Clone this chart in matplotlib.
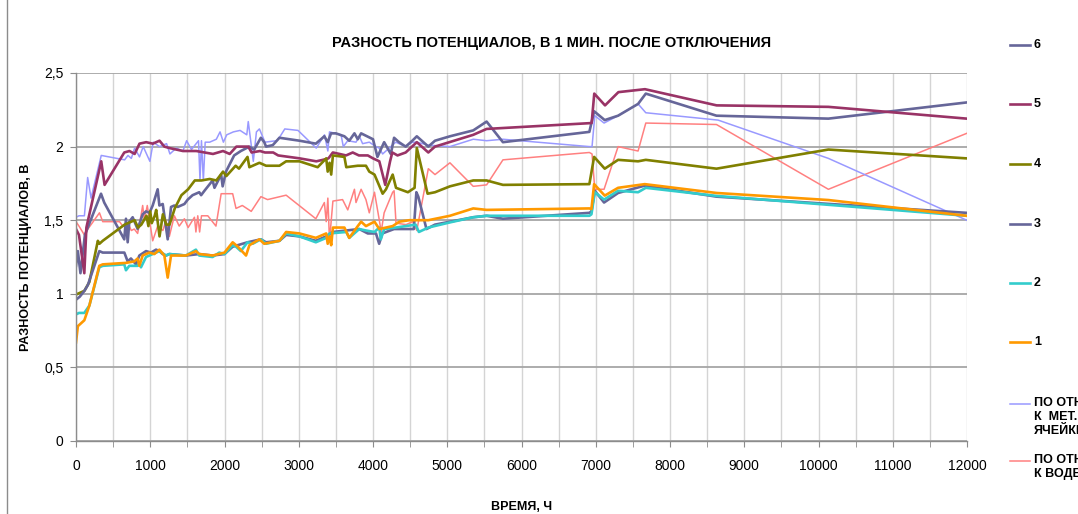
import matplotlib
matplotlib.use("Agg")
import matplotlib.pyplot as plt
from matplotlib.lines import Line2D
from matplotlib.ticker import MultipleLocator, FuncFormatter

plt.rcParams["font.family"] = ["Liberation Sans Narrow", "Liberation Sans", "DejaVu Sans"]

# ---- data (hours, volts) ----
s6_x = [0, 25, 60, 120, 337, 380, 650, 673, 696, 718, 763, 830, 898, 943, 990, 1033, 1100, 1123,
        1168, 1235, 1280, 1325, 1370, 1460, 1505, 1570, 1660, 1685, 1730, 1840, 1865, 1955, 1975,
        2020, 2130, 2220, 2335, 2400, 2490, 2535, 2560, 2650, 2740, 3010, 3230, 3345, 3390, 3435,
        3500, 3615, 3680, 3750, 3795, 3840, 4000, 4060, 4150, 4240, 4284, 4350, 4440, 4530, 4590,
        4745, 4835, 5036, 5350, 5530, 5750, 6914, 6978, 7121, 7301, 7570, 7674, 8626, 10133, 11996]
s6_y = [1.19, 1.29, 1.14, 1.40, 1.68, 1.62, 1.37, 1.51, 1.35, 1.49, 1.52, 1.44, 1.54, 1.56, 1.55, 1.60, 1.71, 1.60,
        1.61, 1.37, 1.59, 1.60, 1.59, 1.61, 1.64, 1.67, 1.69, 1.67, 1.70, 1.77, 1.72, 1.81, 1.73,
        1.83, 1.94, 1.97, 2.00, 1.98, 2.06, 2.03, 2.00, 2.01, 2.06, 2.04, 2.02, 2.07, 2.03, 2.09,
        2.09, 2.07, 2.04, 2.09, 2.05, 2.09, 2.05, 1.93, 2.03, 1.95, 2.06, 2.03, 2.00, 2.04, 2.07,
        2.00, 2.04, 2.07, 2.11, 2.17, 2.03, 2.10, 2.24, 2.18, 2.21, 2.29, 2.36, 2.21, 2.19, 2.30]

s5_x = [0, 40, 112, 140, 340, 385, 650, 720, 790, 855, 945, 1035, 1125, 1190, 1260, 1440, 1620,
        1845, 1980, 2070, 2160, 2320, 2365, 2478, 2545, 2656, 2723, 3013, 3236, 3325, 3400, 3459,
        3550, 3637, 3727, 3810, 3930, 4000, 4085, 4165, 4230, 4260, 4330, 4440, 4590, 4745, 4835,
        5350, 5530, 6945, 6980, 7125, 7305, 7663, 8628, 10133, 11996]
s5_y = [1.44, 1.40, 1.14, 1.45, 1.90, 1.74, 1.96, 1.97, 1.95, 2.02, 2.03, 2.02, 2.04, 2.00, 1.99, 1.97, 1.97,
        1.95, 1.97, 1.95, 2.00, 2.00, 1.96, 1.97, 1.96, 1.96, 1.94, 1.92, 1.90, 1.91, 1.92, 1.96,
        1.95, 1.94, 1.96, 1.94, 1.94, 1.92, 1.90, 1.74, 1.90, 1.96, 1.94, 1.96, 2.03, 1.96, 2.00,
        2.08, 2.12, 2.16, 2.36, 2.28, 2.37, 2.39, 2.28, 2.27, 2.19]

s4_x = [0, 113, 180, 294, 316, 360, 655, 790, 835, 880, 950, 975, 1000, 1020, 1060, 1080, 1125,
        1170, 1215, 1260, 1330, 1420, 1510, 1600, 1690, 1800, 1890, 1980, 2025, 2150, 2195, 2310,
        2335, 2470, 2560, 2740, 2830, 3010, 3255, 3370, 3390, 3415, 3437, 3460, 3615, 3640, 3795,
        3905, 3950, 4020, 4130, 4175, 4265, 4310, 4470, 4560, 4590, 4735, 4835, 5036, 5350, 5530,
        5750, 6914, 6978, 7121, 7301, 7570, 7674, 8626, 10133, 11996]
s4_y = [0.995, 1.02, 1.08, 1.36, 1.34, 1.36, 1.47, 1.50, 1.45, 1.47, 1.53, 1.46, 1.56, 1.48, 1.53, 1.57, 1.39,
        1.54, 1.47, 1.47, 1.58, 1.67, 1.71, 1.77, 1.77, 1.78, 1.77, 1.83, 1.80, 1.87, 1.85, 1.93,
        1.86, 1.89, 1.87, 1.87, 1.90, 1.90, 1.86, 1.92, 1.83, 1.89, 1.81, 1.94, 1.93, 1.86, 1.87,
        1.87, 1.83, 1.81, 1.68, 1.71, 1.81, 1.72, 1.69, 1.72, 1.99, 1.68, 1.69, 1.73, 1.77, 1.77,
        1.74, 1.745, 1.93, 1.85, 1.91, 1.90, 1.91, 1.85, 1.98, 1.92]

s3_x = [0, 50, 113, 160, 314, 360, 651, 696, 740, 808, 853, 943, 1010, 1078, 1123, 1168, 1212,
        1257, 1480, 1660, 1840, 2000, 2110, 2310, 2490, 2560, 2740, 2830, 3010, 3230, 3370, 3460,
        3640, 3815, 3930, 4040, 4083, 4125, 4284, 4440, 4550, 4584, 4610, 4720, 4835, 5350, 5530,
        5750, 6914, 6942, 6987, 7112, 7301, 7660, 8626, 11996]
s3_y = [0.96, 0.98, 1.02, 1.06, 1.29, 1.28, 1.28, 1.22, 1.24, 1.20, 1.26, 1.29, 1.28, 1.30, 1.29, 1.27, 1.26,
        1.27, 1.26, 1.27, 1.26, 1.27, 1.32, 1.35, 1.37, 1.35, 1.36, 1.40, 1.39, 1.36, 1.39, 1.42,
        1.43, 1.44, 1.41, 1.41, 1.34, 1.41, 1.44, 1.44, 1.44, 1.69, 1.66, 1.44, 1.47, 1.52, 1.53,
        1.51, 1.55, 1.56, 1.70, 1.62, 1.685, 1.735, 1.66, 1.55]

s2_x = [0, 40, 112, 180, 314, 360, 650, 673, 718, 830, 853, 875, 943, 1033, 1078, 1123, 1212,
        1257, 1480, 1615, 1660, 1840, 1930, 2000, 2110, 2155, 2220, 2310, 2380, 2490, 2560, 2740,
        2830, 3010, 3230, 3370, 3415, 3640, 3680, 3815, 3905, 4020, 4085, 4105, 4150, 4306, 4574,
        4618, 4745, 5036, 5350, 5530, 6914, 6942, 6987, 7112, 7301, 7570, 7674, 8626, 11996]
s2_y = [0.86, 0.87, 0.87, 0.92, 1.18, 1.19, 1.20, 1.16, 1.19, 1.19, 1.21, 1.18, 1.25, 1.27, 1.28, 1.29, 1.26,
        1.27, 1.26, 1.30, 1.26, 1.25, 1.28, 1.27, 1.33, 1.32, 1.29, 1.35, 1.34, 1.37, 1.34, 1.36,
        1.41, 1.39, 1.35, 1.38, 1.41, 1.42, 1.38, 1.44, 1.43, 1.42, 1.45, 1.37, 1.44, 1.45, 1.47,
        1.42, 1.45, 1.485, 1.52, 1.53, 1.53, 1.54, 1.69, 1.64, 1.70, 1.69, 1.72, 1.665, 1.53]

s1_x = [0, 25, 112, 180, 314, 360, 673, 785, 830, 853, 898, 988, 1055, 1123, 1190, 1235, 1280,
        1480, 1615, 1660, 1840, 2000, 2110, 2180, 2290, 2335, 2470, 2535, 2740, 2830, 3010, 3230,
        3370, 3390, 3415, 3437, 3460, 3615, 3680, 3795, 3840, 3905, 4020, 4085, 4265, 4355, 4490,
        4745, 5036, 5350, 5530, 6914, 6942, 6978, 7121, 7301, 7660, 8626, 10133, 11996]
s1_y = [0.67, 0.78, 0.82, 0.92, 1.19, 1.20, 1.21, 1.22, 1.24, 1.19, 1.26, 1.28, 1.27, 1.30, 1.26, 1.11, 1.26,
        1.26, 1.29, 1.27, 1.26, 1.28, 1.35, 1.32, 1.26, 1.33, 1.37, 1.34, 1.36, 1.42, 1.41, 1.38,
        1.41, 1.34, 1.39, 1.33, 1.45, 1.45, 1.38, 1.46, 1.49, 1.46, 1.49, 1.44, 1.46, 1.49, 1.50,
        1.50, 1.53, 1.58, 1.57, 1.58, 1.576, 1.745, 1.667, 1.72, 1.745, 1.685, 1.637, 1.53]

met_x = [0, 40, 113, 157, 203, 340, 655, 700, 745, 790, 855, 905, 995, 1040, 1125, 1220, 1265,
         1350, 1440, 1490, 1555, 1650, 1670, 1690, 1715, 1740, 1800, 1890, 1940, 1985, 2030, 2120,
         2210, 2300, 2320, 2388, 2430, 2470, 2545, 2700, 2750, 2812, 2990, 3236, 3347, 3392, 3414,
         3570, 3600, 3660, 3771, 3816, 3860, 3950, 4040, 4083, 4130, 4306, 4440, 4530, 4590, 4745,
         5036, 5350, 5530, 5750, 6914, 6950, 6987, 7112, 7301, 7570, 7674, 8648, 10133, 11996]
met_y = [1.52, 1.53, 1.53, 1.79, 1.65, 1.94, 1.91, 1.94, 1.92, 1.99, 1.93, 2.00, 1.90, 2.03, 2.00, 2.02, 1.95,
         1.99, 1.97, 2.04, 1.98, 2.04, 1.77, 2.04, 1.77, 2.03, 2.03, 2.05, 2.10, 2.03, 2.08, 2.10,
         2.11, 2.08, 2.17, 1.90, 2.10, 2.12, 2.03, 2.04, 2.07, 2.12, 2.11, 1.99, 2.08, 1.97, 2.10,
         2.08, 2.00, 2.04, 2.03, 2.07, 2.02, 2.03, 2.00, 1.99, 1.95, 2.03, 2.00, 2.03, 2.03, 2.01,
         2.00, 2.05, 2.04, 2.05, 2.00, 2.00, 2.21, 2.16, 2.21, 2.29, 2.23, 2.18, 1.92, 1.50]

water_x = [0, 40, 113, 160, 316, 360, 586, 630, 700, 745, 785, 830, 875, 898, 920, 960, 1033,
           1100, 1170, 1212, 1257, 1325, 1390, 1460, 1510, 1595, 1615, 1640, 1665, 1690, 1775, 1885,
           1955, 2110, 2155, 2240, 2360, 2490, 2580, 2830, 3230, 3345, 3370, 3392, 3414, 3460, 3590,
           3660, 3750, 3771, 3840, 3905, 3950, 4020, 4085, 4110, 4150, 4265, 4284, 4310, 4445, 4535,
           4590, 4745, 4835, 5036, 5350, 5530, 5750, 6914, 6950, 6987, 7112, 7301, 7570, 7674, 8626,
           10133, 11996]
water_y = [1.49, 1.46, 1.40, 1.44, 1.55, 1.49, 1.49, 1.46, 1.48, 1.43, 1.44, 1.41, 1.53, 1.60, 1.50, 1.60, 1.36,
           1.46, 1.43, 1.50, 1.39, 1.53, 1.46, 1.51, 1.45, 1.52, 1.42, 1.53, 1.42, 1.53, 1.53, 1.46,
           1.68, 1.68, 1.58, 1.60, 1.56, 1.66, 1.64, 1.67, 1.51, 1.62, 1.49, 1.65, 1.36, 1.63, 1.64,
           1.57, 1.71, 1.62, 1.71, 1.64, 1.55, 1.69, 1.50, 1.42, 1.55, 1.69, 1.70, 1.48, 1.47, 1.49,
           1.43, 1.85, 1.81, 1.89, 1.73, 1.74, 1.91, 1.96, 1.95, 1.71, 1.71, 2.00, 1.97, 2.16, 2.15,
           1.71, 2.09]

series = [
    ("ПО ОТНОШЕНИЮ\nК ВОДЕ", water_x, water_y, "#ff8080", 1.1),
    ("ПО ОТНОШЕНИЮ\nК  МЕТ. \nЯЧЕЙКЕ", met_x, met_y, "#9999ff", 1.1),
    ("6", s6_x, s6_y, "#666699", 1.9),
    ("5", s5_x, s5_y, "#993366", 1.9),
    ("4", s4_x, s4_y, "#808000", 1.9),
    ("3", s3_x, s3_y, "#666699", 1.9),
    ("2", s2_x, s2_y, "#33cccc", 1.9),
    ("1", s1_x, s1_y, "#ff9900", 1.9),
]

fig = plt.figure(figsize=(10.78, 5.14), dpi=100)
ax = fig.add_axes([76 / 1078, 1 - 441 / 514, 891 / 1078, 368 / 514])

for name, xs, ys, col, lw in series:
    ax.plot(xs, ys, color=col, lw=lw, label=name, solid_joinstyle="round")

ax.set_xlim(0, 12000)
ax.set_ylim(0, 2.5)
ax.xaxis.set_major_locator(MultipleLocator(1000))
ax.xaxis.set_minor_locator(MultipleLocator(500))
ax.yaxis.set_major_locator(MultipleLocator(0.5))
ax.yaxis.set_major_formatter(FuncFormatter(lambda v, p: ("%g" % v).replace(".", ",")))

ax.grid(True, which="major", axis="y", color="#a6a6a6", lw=1.3)
ax.grid(True, which="both", axis="x", color="#d4d4d4", lw=1.0)
ax.set_axisbelow(True)
for s in ["top", "right"]:
    ax.spines[s].set_visible(False)
for s in ["left", "bottom"]:
    ax.spines[s].set_color("#8c8c8c")
    ax.spines[s].set_linewidth(1.0)

ax.tick_params(axis="x", which="both", direction="out", length=4, color="#8c8c8c", pad=9, labelsize=10)
ax.tick_params(axis="x", which="minor", labelbottom=False)
ax.tick_params(axis="y", direction="out", length=4, color="#8c8c8c", pad=5, labelsize=10)

ax.set_xlabel("ВРЕМЯ, Ч", fontsize=9, fontweight="bold", labelpad=20)
ax.set_ylabel("РАЗНОСТЬ ПОТЕНЦИАЛОВ, В", fontsize=9, fontweight="bold", labelpad=9)
fig.text(552 / 1078, 1 - 43 / 514, "РАЗНОСТЬ ПОТЕНЦИАЛОВ, В 1 МИН. ПОСЛЕ ОТКЛЮЧЕНИЯ",
         ha="center", va="center", fontsize=10.5, fontweight="bold")

# legend, placed by hand like the Excel one
legend_rows = {"6": 45, "5": 104, "4": 164, "3": 224, "2": 283, "1": 342,
               "ПО ОТНОШЕНИЮ\nК  МЕТ. \nЯЧЕЙКЕ": 404, "ПО ОТНОШЕНИЮ\nК ВОДЕ": 461}
for name, xs, ys, col, lw in series:
    yy = 1 - legend_rows[name] / 514
    fig.add_artist(Line2D([1010 / 1078, 1030 / 1078], [yy, yy], color=col, lw=lw,
                          transform=fig.transFigure))
    multi = "\n" in name
    fig.text(1034 / 1078, yy + (0.014 if multi else 0), name, ha="left",
             va="top" if multi else "center", fontsize=9, fontweight="bold", linespacing=1.25)

# chart-area border on the left edge
fig.add_artist(Line2D([7 / 1078, 7 / 1078], [0, 1], color="#8c8c8c", lw=1.0, transform=fig.transFigure))

fig.savefig("out.png", dpi=100)
